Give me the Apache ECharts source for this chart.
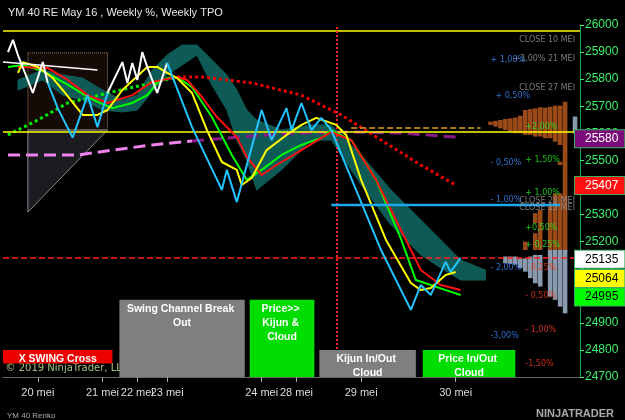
<!DOCTYPE html>
<html><head><meta charset="utf-8">
<script src="https://cdn.jsdelivr.net/npm/echarts@6/dist/echarts.min.js"></script>
<style>html,body{margin:0;background:#000}#c{width:625px;height:420px}</style></head>
<body><div id="c"></div><script>
// ---- data (x = bar index, y = price) ----
const dateLabels = {7:'20 mei',20:'21 mei',27:'22 mei',33:'23 mei',52:'24 mei',59:'28 mei',72:'29 mei',91:'30 mei'};
const yTicks = [24700,24800,24900,25000,25100,25200,25300,25400,25500,25600,25700,25800,25900,26000];
const whiteA = [[1,25900],[2,25945],[3,25889],[6,25749],[8,25863],[9,25786]];
const whiteB = [[21,25749],[24,25863],[25,25786],[26,25860],[27,25797],[28,25900],[29,25845],[31,25749],[33,25860]];
const cyanA = [[9,25786],[11,25693],[14,25584],[17,25741],[19,25623],[21,25749]];
const cyanB = [[33,25860],[38,25623],[44,25391],[45,25465],[47,25346],[50,25549],[52,25686],[54,25575],[57,25693],[58,25612],[60,25712],[62,25612],[64,25657],[66,25612],[76,25169],[82,24948],[84,25040],[86,25003],[89,25125],[90,25088],[92,25140]];
const yellowLine = [[3,25823],[4,25863],[7,25845],[10,25804],[12,25760],[16,25668],[19,25668],[21,25686],[24,25760],[29,25845],[31,25845],[33,25823],[35,25804],[38,25749],[41,25612],[44,25494],[47,25465],[48,25409],[50,25435],[53,25538],[57,25594],[60,25631],[63,25657],[67,25631],[69,25594],[72,25428],[77,25206],[82,25047],[84,25021],[86,25029],[89,25077],[91,25088]];
const redLine = [[3,25845],[9,25841],[13,25797],[17,25741],[21,25712],[26,25741],[30,25790],[32,25797],[35,25808],[37,25797],[40,25734],[43,25660],[47,25586],[49,25513],[52,25446],[55,25483],[60,25538],[66,25605],[70,25575],[75,25428],[80,25243],[84,25095],[88,25040],[92,25021]];
const greenLine = [[1,25845],[4,25852],[8,25830],[13,25780],[17,25735],[19,25716],[22,25693],[26,25712],[29,25741],[31,25786],[33,25804],[35,25808],[38,25770],[42,25660],[46,25520],[49,25428],[52,25465],[56,25520],[60,25557],[64,25583],[66,25612],[70,25575],[75,25428],[80,25210],[83,25058],[86,25040],[89,25021],[92,25003]];
const greenDotted = [[1,25594],[7,25649],[13,25712],[22,25753],[30,25786],[35,25808]];
const redDotted = [[35,25808],[40,25808],[50,25786],[60,25741],[68,25668],[76,25575],[84,25483],[91,25409]];
const pinkDashed = [[1,25520],[15,25520],[22,25538],[30,25557],[38,25572]];
const purpleDashed = [[38,25572],[50,25590],[60,25601],[70,25605],[80,25601],[91,25586]];
const orangeDashed = [[70,25620],[96,25620]];
const cloud = [[3,25797,25760],[8,25834,25797],[12,25815,25741],[16,25804,25723],[20,25760,25686],[24,25723,25679],[27,25741,25686],[30,25834,25753],[33,25889,25815],[36,25926,25852],[39,25926,25889],[42,25871,25778],[45,25815,25686],[47,25760,25575],[49,25686,25501],[51,25649,25391],[56,25612,25465],[62,25631,25575],[66,25631,25575],[72,25520,25409],[78,25391,25261],[84,25280,25151],[88,25206,25103],[92,25132,25058],[97,25095,25058]];
// profile columns: [x, top, bottom, kind] kind 0 orange 1 grey
const profile = [[98,25643,25631,0],[99,25646,25625,0],[100,25649,25618,0],[101,25653,25612,0],[102,25655,25606,0],[103,25658,25600,0],[104,25665,25600,0],[105,25686,25594,0],[106,25689,25594,0],[107,25692,25588,0],[108,25696,25588,0],[109,25695,25582,0],[110,25698,25582,0],[111,25702,25569,0],[112,25702,25557,0],[113,25717,25169,0],[115,25662,25600,1],
 [105,25200,25169,0],[107,25305,25268,0],[107,25231,25169,0],[108,25317,25169,0],[110,25335,25169,0],[111,25378,25169,0],[112,25378,25169,0],[112,25495,25483,0],
 [101,25145,25120,1],[102,25145,25118,1],[103,25145,25115,1],[104,25138,25102,1],[105,25138,25089,1],[106,25145,25065,1],[107,25151,25046,1],[108,25151,25034,1],[110,25169,24997,1],[111,25169,24985,1],[112,25169,24960,1],[113,25169,24935,1]];
const greyNotes = [[115,25945,'CLOSE 10 MEI'],[115,25874,'+3,00% 21 MEI'],[115,25767,'CLOSE 27 MEI'],[115,25350,'CLOSE 28 MEI'],[115,25324,'CLOSE 13 MEI']];
const blueNotes = [[98,25871,'+ 1,00%'],[99,25738,'+ 0,50%'],[98,25490,'- 0,50%'],[98,25354,'- 1,00%'],[98,25103,'- 2,00%'],[98,24851,'-3,00%']];
const greenNotes = [[105,25623,'+2,00%'],[105,25501,'+ 1,50%'],[105,25380,'+ 1,00%'],[105,25250,'+0,50%'],[105,25188,'+ 0,25%']];
const redNotes = [[105,25103,'- 0,25%'],[105,25000,'- 0,50%'],[105,24874,'- 1,00%'],[105,24748,'-1,50%']];
const priceTags = [[25580,'#7b0a7b','#fff'],[25407,'#ff1010','#fff'],[25135,'#ffffff','#000'],[25064,'#ffff00','#000'],[24995,'#00ff00','#000']];
const boxes = [[23.4,48.6,24985,24700,'Swing Channel Break Out','#7f7f7f'],[49.6,62.6,24985,24700,'Price>> Kijun & Cloud','#00dd00'],[63.6,83,24800,24700,'Kijun In/Out Cloud','#7f7f7f'],[84.4,103,24800,24700,'Price In/Out Cloud','#00dd00'],[0,22,24800,24750,'X SWING Cross','#ee0000']];
const hLines = [[25978,'#ffff00','solid',1.5],[25605,'#ffff00','solid',1.5],[25140,'#ff2020','dashed',1.5]];

const cats = []; for (let i=0;i<=116;i++) cats.push(dateLabels[i]||'');
function line(d,color,type,w,z){return {type:'line',data:d,xAxisIndex:0,symbol:'none',z:z||5,lineStyle:{color:color,width:w||2,type:type||'solid'}};}
function notes(d,color,align){return {type:'scatter',data:d,symbolSize:0,z:8,label:{show:true,formatter:p=>p.data[2],color:color,fontSize:8,align:align,fontFamily:'DejaVu Sans'}};}
const series = [
 {type:'custom',z:1,data:cloud,renderItem:(p,api)=>{const i=p.dataIndex;if(i>=cloud.length-1)return;const a=cloud[i],b=cloud[i+1];
   return {type:'polygon',shape:{points:[api.coord([a[0],a[1]]),api.coord([b[0],b[1]]),api.coord([b[0],b[2]]),api.coord([a[0],a[2]])]},style:{fill:'#0d5a56',stroke:'#0d5a56'}};}},
 {type:'custom',z:1,data:[[5,25612,25309,21]],renderItem:(p,api)=>({type:'polygon',shape:{points:[api.coord([5,25612]),api.coord([5,25309]),api.coord([21,25612])]},style:{fill:'#1b1c22',stroke:'#8a8a8a',lineWidth:1}})},
 {type:'custom',z:3,data:profile,renderItem:(p,api)=>{const d=profile[p.dataIndex];const t=api.coord([d[0],d[1]]),b=api.coord([d[0],d[2]]);
   return {type:'rect',shape:{x:t[0]-2.3,y:t[1],width:4.6,height:Math.max(1,b[1]-t[1])},style:{fill:d[3]?'#8a9aae':'#9a4a18'}};}},
 {type:'line',data:[],markArea:{silent:true,itemStyle:{color:'#140b06',borderColor:'#b08060',borderWidth:1,borderType:'dotted'},data:[[{coord:[5,25897]},{coord:[21,25612]}]]}},
 line(pinkDashed,'#ee82ee','dashed',3,4), line(purpleDashed,'#8a1a8a','dashed',3,4),
 line(greenDotted,'#00ee00','dotted',3,4), line(redDotted,'#ee0000','dotted',3,4),
 line(orangeDashed,'#e0a020','dashed',1.5,4),
 line(greenLine,'#00ff00'), line(redLine,'#ff1010'), line(yellowLine,'#ffff00'),
 line(whiteA,'#ffffff'), line(whiteB,'#ffffff'), line(cyanA,'#22c4ff'), line(cyanB,'#22c4ff'),
 line([[0,25863],[19,25834]],'#ffffff','solid',1.5),
 line([[66,25335],[112,25335]],'#1ea8f0','solid',2.5),
 {type:'line',data:[],markLine:{silent:true,symbol:'none',animation:false,label:{show:false},data:
   hLines.map(h=>({yAxis:h[0],lineStyle:{color:h[1],type:h[2],width:h[3]}})).concat([{xAxis:67,lineStyle:{color:'#ff2020',type:'dotted',width:2}}])}},
 {type:'line',data:[],z:20,markLine:{silent:true,symbol:'none',data:priceTags.map(t=>({yAxis:t[0],lineStyle:{color:'rgba(0,0,0,0)',width:0},label:{show:true,position:'end',formatter:String(t[0]),
   backgroundColor:t[1],color:t[2],borderColor:'#3cb060',borderWidth:1,padding:[3,6,2,10],fontSize:12,distance:-5}}))}},
 {type:'line',data:[],markArea:{silent:true,z:9,data:boxes.map(b=>[{coord:[b[0],b[2]],itemStyle:{color:b[5]},
   label:{show:true,position:'insideTop',formatter:b[4],color:'#fff',fontWeight:'bold',fontSize:10.5,width:(b[1]-b[0])*5-6,overflow:'break',lineHeight:14,distance:2}},{coord:[b[1],b[3]]}])}},
 notes(greyNotes,'#9a9a9a','right'), notes(blueNotes,'#3a8cff','left'), notes(greenNotes,'#22ee22','left'), notes(redNotes,'#ff3a1a','left'),
 notes([[0.5,24733,'© 2019 NinjaTrader, LLC']],'#c8f0a0','left')
];
series[series.length-1].label.fontSize=10;
const chart = echarts.init(document.getElementById('c'));
chart.setOption({backgroundColor:'#000',animation:false,
 title:[{text:'YM 40 RE May 16 , Weekly %, Weekly TPO',left:3,top:2,textStyle:{color:'#e8e8e8',fontSize:11,fontWeight:'normal'}},
  {text:'YM 40 Renko',left:2,top:407,textStyle:{color:'#aaa',fontSize:8,fontWeight:'normal'}},
  {text:'NINJATRADER',right:6,top:403,textStyle:{color:'#aaa',fontSize:11,fontWeight:'bold'}}],
 grid:{left:0,right:45,top:25,bottom:43},
 xAxis:[{type:'value',min:0,max:116,show:false},
  {type:'category',data:cats,boundaryGap:false,position:'bottom',axisLine:{lineStyle:{color:'#666'}},
   axisTick:{show:true,interval:i=>!!dateLabels[i],lineStyle:{color:'#aaa'}},axisLabel:{interval:0,color:'#dddddd',fontSize:11,margin:10}}],
 yAxis:{type:'value',position:'right',min:24700,max:26000,interval:100,splitLine:{show:false},
  axisLine:{show:true,onZero:false,lineStyle:{color:'#1fa050'}},axisTick:{show:true,length:4,lineStyle:{color:'#3cef6a'}},
  axisLabel:{color:'#3cef6a',fontSize:12,margin:5,formatter:v=>String(v)}},
 series:series});
</script></body></html>
